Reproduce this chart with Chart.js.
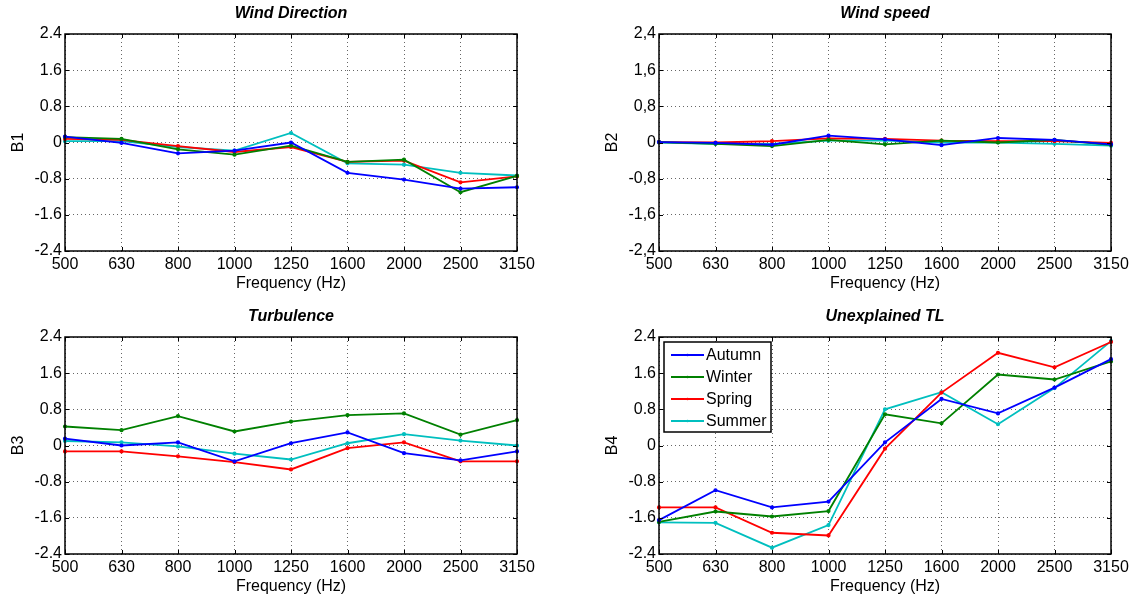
<!DOCTYPE html>
<html>
<head>
  <title>Seasonal regression coefficients</title>
  <script src="https://cdn.jsdelivr.net/npm/chart.js"></script>
  <style>
    body {
      margin: 0;
      background: #fff;
      width: 1137px;
      height: 603px;
      overflow: hidden;
      position: relative;
      font-family: 'Liberation Sans', Arial, sans-serif;
    }
    canvas {
      position: absolute;
    }
  </style>
</head>
<body>
  <canvas id="windDir" width="568" height="300" style="left:0;top:0"></canvas>
  <canvas id="windSpeed" width="543" height="300" style="left:594px;top:0"></canvas>
  <canvas id="turb" width="568" height="300" style="left:0;top:303px"></canvas>
  <canvas id="unexpl" width="543" height="300" style="left:594px;top:303px"></canvas>

  <script>
    const freqLabels = ['500', '630', '800', '1000', '1250', '1600', '2000', '2500', '3150'];
    const seasons = ['Autumn', 'Winter', 'Spring', 'Summer'];
    const seasonColors = ['#0000ff', '#008000', '#ff0000', '#00bfbf'];

    // B1 - wind direction
    const autumnB1 = [0.13, -0.01, -0.24, -0.18, 0.00, -0.67, -0.82, -1.02, -0.99];
    const winterB1 = [0.12, 0.08, -0.15, -0.27, -0.07, -0.43, -0.38, -1.10, -0.74];
    const springB1 = [0.08, 0.06, -0.08, -0.21, -0.10, -0.43, -0.40, -0.88, -0.75];
    const summerB1 = [0.03, 0.03, -0.10, -0.18, 0.21, -0.46, -0.49, -0.67, -0.73];

    // B2 - wind speed
    const autumnB2 = [0.01, -0.01, -0.05, 0.15, 0.07, -0.06, 0.10, 0.06, -0.04];
    const winterB2 = [0.01, -0.03, -0.08, 0.06, -0.04, 0.04, 0.00, 0.06, -0.05];
    const springB2 = [0.01, 0.00, 0.03, 0.09, 0.08, 0.04, 0.03, 0.03, -0.01];
    const summerB2 = [0.00, -0.03, -0.03, 0.04, 0.04, 0.00, 0.00, -0.03, -0.07];

    // B3 - turbulence
    const autumnB3 = [0.15, 0.00, 0.07, -0.35, 0.05, 0.29, -0.17, -0.33, -0.13];
    const winterB3 = [0.42, 0.34, 0.65, 0.31, 0.53, 0.67, 0.71, 0.24, 0.56];
    const springB3 = [-0.13, -0.13, -0.24, -0.37, -0.53, -0.06, 0.07, -0.35, -0.35];
    const summerB3 = [0.10, 0.07, -0.02, -0.18, -0.31, 0.05, 0.25, 0.11, 0.00];

    // B4 - unexplained TL
    const autumnB4 = [-1.65, -0.99, -1.37, -1.24, 0.07, 1.03, 0.71, 1.28, 1.91];
    const winterB4 = [-1.69, -1.46, -1.57, -1.45, 0.69, 0.49, 1.57, 1.46, 1.86];
    const springB4 = [-1.37, -1.37, -1.93, -1.99, -0.07, 1.17, 2.05, 1.73, 2.29];
    const summerB4 = [-1.70, -1.71, -2.26, -1.76, 0.80, 1.18, 0.47, 1.27, 2.31];

    const yMin = -2.4, yMax = 2.4, yStep = 0.8;
    const FONT = "'Liberation Sans', Arial, sans-serif";

    // frame, inner tick marks, title and optional legend like the matlab figure
    const matlabAxes = {
      id: 'matlabAxes',
      afterDatasetsDraw(chart, args, opts) {
        const ctx = chart.ctx;
        const a = chart.chartArea;
        ctx.save();
        ctx.strokeStyle = '#000';
        ctx.lineWidth = 1;
        ctx.setLineDash([]);
        ctx.beginPath();
        chart.scales.x.ticks.forEach((t, i) => {
          const x = Math.round(chart.scales.x.getPixelForTick(i)) + 0.5;
          ctx.moveTo(x, a.bottom); ctx.lineTo(x, a.bottom - 4);
          ctx.moveTo(x, a.top); ctx.lineTo(x, a.top + 4);
        });
        chart.scales.y.ticks.forEach((t, i) => {
          const y = Math.round(chart.scales.y.getPixelForTick(i)) + 0.5;
          ctx.moveTo(a.left, y); ctx.lineTo(a.left + 4, y);
          ctx.moveTo(a.right, y); ctx.lineTo(a.right - 4, y);
        });
        ctx.stroke();
        ctx.lineWidth = 1.5;
        ctx.strokeRect(Math.round(a.left), Math.round(a.top), Math.round(a.right - a.left), Math.round(a.bottom - a.top));

        if (opts.legend) {
          const lx = a.left + 5, ly = a.top + 5;
          ctx.fillStyle = '#fff';
          ctx.fillRect(lx, ly, 107, 90);
          ctx.lineWidth = 1.5;
          ctx.strokeStyle = '#000';
          ctx.strokeRect(lx, ly, 107, 90);
          ctx.font = '16px ' + FONT;
          ctx.textBaseline = 'middle';
          chart.data.datasets.forEach((ds, i) => {
            const y = ly + 13 + i * 22;
            ctx.strokeStyle = ds.borderColor;
            ctx.lineWidth = 1.8;
            ctx.beginPath();
            ctx.moveTo(lx + 7, y); ctx.lineTo(lx + 40, y);
            ctx.stroke();
            ctx.fillStyle = ds.borderColor;
            ctx.beginPath();
            ctx.arc(lx + 23.5, y, 1.2, 0, Math.PI * 2);
            ctx.fill();
            ctx.fillStyle = '#000';
            ctx.fillText(ds.label, lx + 42, y + 1);
          });
        }

        ctx.fillStyle = '#000';
        ctx.font = 'italic bold 16px ' + FONT;
        ctx.textAlign = 'center';
        ctx.textBaseline = 'middle';
        ctx.fillText(opts.title, (a.left + a.right) / 2, 14);
        ctx.restore();
      }
    };

    function makeChart(id, title, yLabel, series, comma, legend) {
      const canvas = document.getElementById(id);
      new Chart(canvas.getContext('2d'), {
        type: 'line',
        data: {
          labels: freqLabels,
          datasets: series.map((vals, i) => ({
            label: seasons[i],
            data: vals,
            borderColor: seasonColors[i],
            backgroundColor: seasonColors[i],
            borderWidth: 1.8,
            pointRadius: 1.2,
            pointHoverRadius: 1.2,
            tension: 0
          }))
        },
        options: {
          responsive: false,
          animation: false,
          events: [],
          layout: { padding: { left: 0, top: 34, right: canvas.width - 517, bottom: 4 } },
          plugins: {
            legend: { display: false },
            tooltip: { enabled: false },
            matlabAxes: { title: title, legend: legend }
          },
          scales: {
            x: {
              type: 'category',
              offset: false,
              grid: { color: '#666', lineWidth: 1, drawTicks: false },
              border: { display: false, dash: [1, 3] },
              ticks: { color: '#000', font: { family: FONT, size: 16 }, padding: 4, maxRotation: 0, autoSkip: false },
              title: { display: true, text: 'Frequency (Hz)', color: '#000', font: { family: FONT, size: 16 }, padding: { top: 0, bottom: 3 } },
              afterFit(scale) { scale.height = 45; }
            },
            y: {
              min: yMin,
              max: yMax,
              grid: { color: '#666', lineWidth: 1, drawTicks: false },
              border: { display: false, dash: [1, 3] },
              ticks: {
                stepSize: yStep,
                color: '#000',
                font: { family: FONT, size: 16 },
                padding: 3,
                callback(v) {
                  const s = String(Math.round(v * 10) / 10);
                  return comma ? s.replace('.', ',') : s;
                }
              },
              title: { display: true, text: yLabel, color: '#000', font: { family: FONT, size: 16 }, padding: { top: 9, bottom: 0 } },
              afterFit(scale) { scale.width = 65; }
            }
          }
        },
        plugins: [matlabAxes]
      });
    }

    makeChart('windDir', 'Wind Direction', 'B1', [autumnB1, winterB1, springB1, summerB1], false, false);
    makeChart('windSpeed', 'Wind speed', 'B2', [autumnB2, winterB2, springB2, summerB2], true, false);
    makeChart('turb', 'Turbulence', 'B3', [autumnB3, winterB3, springB3, summerB3], false, false);
    makeChart('unexpl', 'Unexplained TL', 'B4', [autumnB4, winterB4, springB4, summerB4], false, true);
  </script>
</body>
</html>
